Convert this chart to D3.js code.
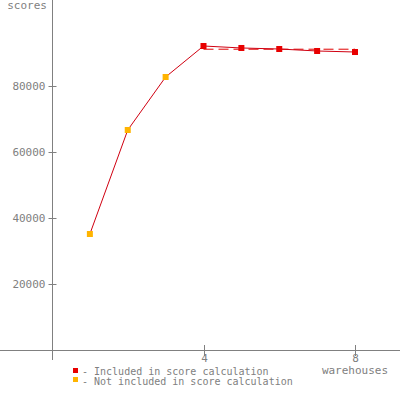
<!DOCTYPE html>
<html><head><meta charset="utf-8">
<script src="https://cdn.jsdelivr.net/npm/d3@7"></script>
<style>body{margin:0;background:#fff}svg{display:block}text{font-family:"DejaVu Sans Mono",monospace;fill:#808080}</style>
</head><body><svg id="c" width="400" height="400"></svg>
<script>
const warehouses = [1,2,3,4,5,6,7,8];
const scores = [35150,66670,82730,92120,91520,91210,90610,90300];
const included = [false,false,false,true,true,true,true,true];
const scoreLine = 91150;
const xTicks = [4,8];
const yTicks = [20000,40000,60000,80000];

const svg = d3.select("#c");
const x = d3.scaleLinear().domain([0,8]).range([52,355]);
const y = d3.scaleLinear().domain([0,80000]).range([350,86]);
const grey = "#808080";

svg.append("line").attr("x1",0).attr("x2",400).attr("y1",350.5).attr("y2",350.5).attr("stroke",grey);
svg.append("line").attr("x1",52.5).attr("x2",52.5).attr("y1",0).attr("y2",360).attr("stroke",grey);

const yg = svg.append("g").attr("transform","translate(52.5,0)");
yTicks.forEach(t=>{
  yg.append("line").attr("x1",-4).attr("x2",4).attr("y1",Math.round(y(t))+0.5).attr("y2",Math.round(y(t))+0.5).attr("stroke",grey);
  yg.append("text").attr("x",-7).attr("y",y(t)+4).attr("text-anchor","end").attr("font-size",11).text(t);
});
xTicks.forEach(t=>{
  const xx = Math.round(x(t))+0.5;
  svg.append("line").attr("x1",xx).attr("x2",xx).attr("y1",345).attr("y2",356).attr("stroke",grey);
  svg.append("text").attr("x",xx).attr("y",362).attr("text-anchor","middle").attr("font-size",11).text(t);
});
svg.append("text").attr("x",355).attr("y",374).attr("text-anchor","middle").attr("font-size",11).text("warehouses");
svg.append("text").attr("x",47).attr("y",9).attr("text-anchor","end").attr("font-size",11).text("scores");

svg.append("line").attr("x1",x(4)).attr("x2",x(8)).attr("y1",y(scoreLine)).attr("y2",y(scoreLine))
  .attr("stroke","#e00000").attr("stroke-dasharray","10,5").attr("stroke-width",1);

const line = d3.line().x((d,i)=>x(warehouses[i])).y(d=>y(d));
svg.append("path").datum(scores).attr("d",line).attr("fill","none").attr("stroke","#d00010").attr("stroke-width",1);

svg.selectAll("rect.m").data(scores).enter().append("rect")
  .attr("x",(d,i)=>x(warehouses[i])-3).attr("y",d=>y(d)-3).attr("width",6).attr("height",6)
  .attr("fill",(d,i)=>included[i]?"#e80000":"#ffb400");

svg.append("rect").attr("x",73).attr("y",368).attr("width",5).attr("height",5).attr("fill","#e80000");
svg.append("rect").attr("x",73).attr("y",377).attr("width",5).attr("height",5).attr("fill","#ffb400");
svg.append("text").attr("x",82).attr("y",375).attr("font-size",10).text("- Included in score calculation");
svg.append("text").attr("x",82).attr("y",385).attr("font-size",10).text("- Not included in score calculation");
</script></body></html>
